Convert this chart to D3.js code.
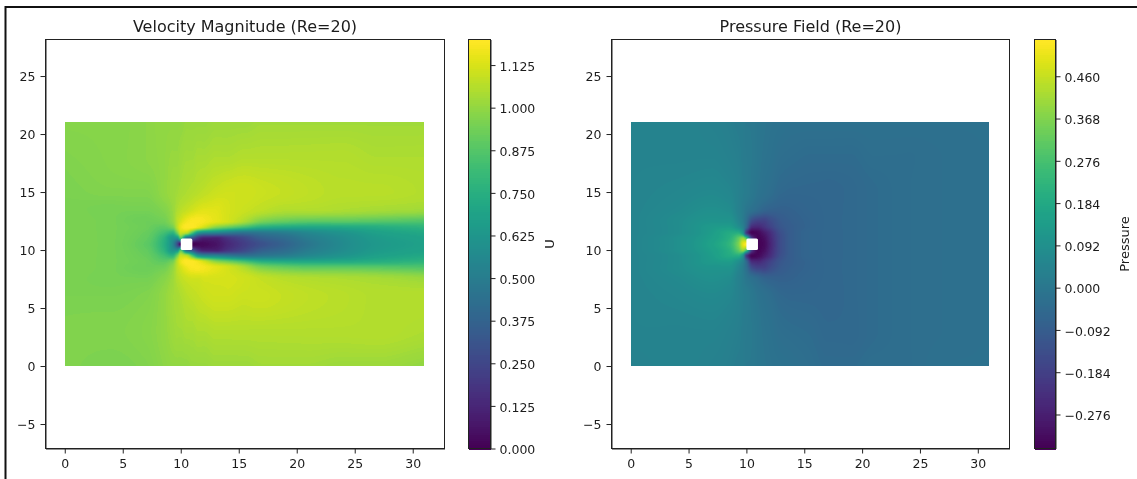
<!DOCTYPE html>
<html>
<head>
<meta charset="utf-8">
<script src="https://cdn.jsdelivr.net/npm/d3@7"></script>
<style>
  html, body { margin: 0; padding: 0; background: white; }
  #chart { position: relative; width: 1137px; height: 479px; overflow: hidden; }
  #chart canvas, #chart svg { position: absolute; left: 0; top: 0; }
  text { font-family: "DejaVu Sans", sans-serif; fill: #1c1c1c; }
</style>
</head>
<body>
<div id="chart"></div>
<script>
// field values, at these mesh positions
var xNodes = [0, 4, 7, 8.5, 9.3, 9.7, 10, 10.5, 11, 11.5, 12, 13, 14, 15.5, 17, 19, 21, 24, 27, 31];
var yNodes = [0, 3, 6, 7.5, 8.5, 9, 9.5, 10, 10.5, 11, 11.5, 12, 12.5, 13.5, 15, 18, 21];

// one row per y node, bottom row first
var uRows = [
  [.97, .96, .97, .99, 1.0, 1.0, 1.0, 1.0, 1.01, 1.01, 1.01, 1.02, 1.02, 1.02, 1.03, 1.03, 1.03, 1.02, 1.02, 1.0],
  [.97, .97, .98, 1.0, 1.02, 1.03, 1.03, 1.04, 1.04, 1.05, 1.05, 1.06, 1.06, 1.06, 1.06, 1.06, 1.06, 1.06, 1.06, 1.05],
  [.96, .96, .97, 1.0, 1.03, 1.04, 1.05, 1.07, 1.08, 1.09, 1.1, 1.11, 1.11, 1.1, 1.1, 1.09, 1.08, 1.07, 1.06, 1.06],
  [.96, .95, .95, .98, 1.02, 1.06, 1.08, 1.1, 1.11, 1.11, 1.12, 1.12, 1.12, 1.11, 1.09, 1.07, 1.06, 1.05, 1.04, 1.02],
  [.96, .95, .93, .94, 1.0, 1.08, 1.12, 1.17, 1.19, 1.19, 1.18, 1.15, 1.12, 1.05, .96, .92, .9, .9, .89, .87],
  [.96, .95, .93, .9, .95, 1.08, 1.16, 1.2, 1.2, 1.17, 1.12, 1.0, .94, .85, .76, .73, .72, .73, .75, .78],
  [.96, .95, .92, .84, .78, .95, 1.1, 1.08, .88, .65, .58, .55, .5, .46, .48, .51, .56, .62, .68, .72],
  [.96, .95, .91, .78, .62, .6, .85, .4, .3, .16, .1, .1, .17, .26, .36, .42, .5, .58, .65, .69],
  [.96, .95, .9, .76, .56, .28, .02, 0, 0, .02, .03, .06, .13, .22, .3, .38, .47, .57, .64, .68],
  [.96, .95, .91, .78, .62, .6, .85, .4, .3, .16, .1, .1, .17, .26, .36, .42, .5, .58, .65, .69],
  [.96, .95, .92, .84, .78, .95, 1.1, 1.08, .88, .65, .58, .55, .5, .46, .48, .51, .56, .62, .68, .72],
  [.96, .95, .93, .9, .95, 1.08, 1.16, 1.2, 1.2, 1.17, 1.12, 1.0, .94, .85, .76, .73, .72, .73, .75, .78],
  [.96, .95, .93, .94, 1.0, 1.08, 1.12, 1.17, 1.19, 1.19, 1.18, 1.15, 1.12, 1.05, .96, .92, .9, .9, .89, .87],
  [.96, .95, .95, .97, 1.01, 1.05, 1.07, 1.09, 1.11, 1.13, 1.14, 1.14, 1.12, 1.1, 1.08, 1.06, 1.06, 1.05, 1.04, 1.03],
  [.96, .97, .97, 1.0, 1.02, 1.03, 1.04, 1.05, 1.06, 1.07, 1.08, 1.1, 1.11, 1.11, 1.1, 1.09, 1.08, 1.07, 1.07, 1.06],
  [.97, .98, .99, 1.0, 1.01, 1.01, 1.02, 1.03, 1.03, 1.04, 1.04, 1.05, 1.05, 1.06, 1.06, 1.06, 1.06, 1.06, 1.05, 1.05],
  [.98, .98, .99, 1.0, 1.0, 1.0, 1.0, 1.01, 1.01, 1.01, 1.01, 1.02, 1.02, 1.02, 1.03, 1.03, 1.03, 1.03, 1.03, 1.03]
];

var pRows = [
  [.04, .05, .04, .03, .02, .02, .01, .01, 0, -.005, -.01, -.015, -.02, -.03, -.04, -.04, -.03, -.03, -.02, -.02],
  [.05, .05, .05, .04, .03, .02, .015, .01, 0, -.01, -.015, -.03, -.035, -.04, -.05, -.05, -.04, -.03, -.025, -.02],
  [.05, .06, .07, .06, .04, .025, .02, .005, -.01, -.02, -.03, -.05, -.055, -.055, -.055, -.05, -.04, -.03, -.025, -.02],
  [.05, .07, .09, .08, .04, .02, 0, -.02, -.04, -.06, -.07, -.075, -.07, -.06, -.055, -.05, -.04, -.03, -.025, -.02],
  [.05, .08, .11, .11, .06, .02, -.03, -.15, -.18, -.18, -.15, -.1, -.08, -.065, -.055, -.05, -.04, -.03, -.025, -.02],
  [.05, .08, .13, .14, .09, .04, -.05, -.24, -.25, -.22, -.18, -.11, -.085, -.065, -.055, -.05, -.04, -.03, -.025, -.02],
  [.05, .08, .14, .19, .2, .1, -.2, -.34, -.33, -.29, -.24, -.13, -.085, -.06, -.055, -.05, -.04, -.03, -.025, -.02],
  [.05, .09, .15, .21, .32, .4, .3, -.2, -.34, -.32, -.26, -.14, -.085, -.06, -.055, -.05, -.04, -.03, -.025, -.02],
  [.05, .09, .16, .23, .36, .5, .54, 0, -.34, -.33, -.27, -.14, -.085, -.06, -.055, -.05, -.04, -.03, -.025, -.02],
  [.05, .09, .15, .21, .32, .4, .3, -.2, -.34, -.32, -.26, -.14, -.085, -.06, -.055, -.05, -.04, -.03, -.025, -.02],
  [.05, .08, .14, .19, .2, .1, -.2, -.34, -.33, -.29, -.24, -.13, -.085, -.06, -.055, -.05, -.04, -.03, -.025, -.02],
  [.05, .08, .13, .14, .09, .04, -.05, -.24, -.25, -.22, -.18, -.11, -.085, -.065, -.055, -.05, -.04, -.03, -.025, -.02],
  [.05, .08, .11, .11, .06, .02, -.03, -.15, -.18, -.18, -.15, -.1, -.08, -.065, -.055, -.05, -.04, -.03, -.025, -.02],
  [.05, .07, .09, .08, .04, .02, 0, -.02, -.04, -.06, -.07, -.075, -.07, -.06, -.055, -.05, -.04, -.03, -.025, -.02],
  [.05, .06, .07, .06, .04, .025, .02, .005, -.01, -.02, -.03, -.05, -.055, -.055, -.055, -.05, -.04, -.03, -.025, -.02],
  [.05, .05, .05, .04, .03, .02, .015, .01, 0, -.01, -.015, -.03, -.035, -.04, -.04, -.04, -.03, -.03, -.025, -.02],
  [.05, .05, .04, .03, .02, .02, .01, .01, 0, -.005, -.01, -.015, -.02, -.02, -.02, -.02, -.02, -.02, -.02, -.02]
];

var xTicks = [0, 5, 10, 15, 20, 25, 30];
var yTicks = [-5, 0, 5, 10, 15, 20, 25];
var xLimits = [-1.66, 32.74];
var yLimits = [-7.11, 28.15];
var obstacle = [10, 11]; // white square, same span in x and y

var uDomain = [0, 1.2];
var uTicks = [0, 0.125, 0.25, 0.375, 0.5, 0.625, 0.75, 0.875, 1, 1.125];
var pDomain = [-0.35, 0.54];
var pTicks = [-0.276, -0.184, -0.092, 0, 0.092, 0.184, 0.276, 0.368, 0.46];
var levelCount = 200;

var width = 1137, height = 479;
var plotTop = 39.5, plotBottom = 448.5;

var chart = d3.select("#chart");
var canvas = chart.append("canvas").attr("width", width).attr("height", height);
var ctx = canvas.node().getContext("2d");
var svg = chart.append("svg").attr("width", width).attr("height", height);

// the frame of the screenshot, top and left only
svg.append("path")
  .attr("d", "M5.5,479V7H1137")
  .attr("fill", "none")
  .attr("stroke", "#111")
  .attr("stroke-width", 2);

// slope at a node, harmonic mean of both sides so shading never overshoots
function nodeSlope(nodes, values, i) {
  if (i == 0) return (values[1] - values[0]) / (nodes[1] - nodes[0]);
  var n = nodes.length - 1;
  if (i == n) return (values[n] - values[n - 1]) / (nodes[n] - nodes[n - 1]);
  var a = (values[i] - values[i - 1]) / (nodes[i] - nodes[i - 1]);
  var b = (values[i + 1] - values[i]) / (nodes[i + 1] - nodes[i]);
  return a * b <= 0 ? 0 : 2 * a * b / (a + b);
}

// smooth shading along one line of mesh nodes
function shade(nodes, values, v) {
  var i = Math.max(1, Math.min(d3.bisectRight(nodes, v), nodes.length - 1));
  var h = nodes[i] - nodes[i - 1];
  var t = (v - nodes[i - 1]) / h;
  var m0 = nodeSlope(nodes, values, i - 1) * h;
  var m1 = nodeSlope(nodes, values, i) * h;
  return (2 * t * t * t - 3 * t * t + 1) * values[i - 1] + (t * t * t - 2 * t * t + t) * m0 +
    (3 * t * t - 2 * t * t * t) * values[i] + (t * t * t - t * t) * m1;
}

function drawPanel(options) {
  var x = d3.scaleLinear().domain(xLimits).range([options.left, options.right]);
  var y = d3.scaleLinear().domain(yLimits).range([plotBottom, plotTop]);

  // filled contour levels, as in the colorbar
  var levels = d3.range(levelCount).map(function (i) { return d3.interpolateViridis(i / (levelCount - 1)); });
  var color = d3.scaleQuantize().domain(options.domain).range(levels);

  // paint the field pixel by pixel
  var px0 = Math.round(x(xNodes[0])), px1 = Math.round(x(xNodes[xNodes.length - 1]));
  var py0 = Math.floor(y(yNodes[yNodes.length - 1])), py1 = Math.round(y(yNodes[0]));
  for (var px = px0; px < px1; px++) {
    var dataX = x.invert(px + 0.5);
    var column = options.rows.map(function (row) { return shade(xNodes, row, dataX); });
    for (var py = py0; py < py1; py++) {
      ctx.fillStyle = color(shade(yNodes, column, y.invert(py + 0.5)));
      ctx.fillRect(px, py, 1, 1);
    }
  }

  var g = svg.append("g");

  // hole around the obstacle
  g.append("rect")
    .attr("x", x(obstacle[0]))
    .attr("y", y(obstacle[1]))
    .attr("width", x(obstacle[1]) - x(obstacle[0]))
    .attr("height", y(obstacle[0]) - y(obstacle[1]))
    .attr("rx", 1.5)
    .attr("fill", "white");

  // axes
  var xAxis = d3.axisBottom(x).tickValues(xTicks).tickSize(5).tickSizeOuter(0).tickPadding(6);
  var yAxis = d3.axisLeft(y).tickValues(yTicks).tickSize(5).tickSizeOuter(0).tickPadding(5);
  g.append("g").attr("transform", "translate(0," + plotBottom + ")").call(xAxis);
  g.append("g").attr("transform", "translate(" + options.left + ",0)").call(yAxis);
  g.append("rect")
    .attr("x", options.left).attr("y", plotTop)
    .attr("width", options.right - options.left).attr("height", plotBottom - plotTop)
    .attr("fill", "none").attr("stroke", "#222");

  g.append("text")
    .attr("x", (options.left + options.right) / 2)
    .attr("y", 31.5)
    .attr("text-anchor", "middle")
    .attr("font-size", 16)
    .text(options.title);

  // colorbar
  var bar = d3.scaleLinear().domain(options.domain).range([plotBottom, plotTop]);
  var step = (options.domain[1] - options.domain[0]) / levelCount;
  g.append("g").attr("shape-rendering", "crispEdges").selectAll("rect")
    .data(levels)
    .enter()
    .append("rect")
    .attr("x", options.barLeft)
    .attr("width", options.barRight - options.barLeft)
    .attr("y", function (d, i) { return bar(options.domain[0] + (i + 1) * step); })
    .attr("height", Math.abs(bar(step) - bar(0)) + 1)
    .attr("fill", function (d) { return d; });
  var barAxis = d3.axisRight(bar).tickValues(options.ticks).tickFormat(d3.format(".3f")).tickSize(5).tickSizeOuter(0).tickPadding(4);
  var barGroup = g.append("g").attr("transform", "translate(" + options.barRight + ",0)").call(barAxis);
  g.append("rect")
    .attr("x", options.barLeft).attr("y", plotTop)
    .attr("width", options.barRight - options.barLeft).attr("height", plotBottom - plotTop)
    .attr("fill", "none").attr("stroke", "#222");

  g.append("text")
    .attr("transform", "translate(" + options.labelX + "," + (plotTop + plotBottom) / 2 + ") rotate(-90)")
    .attr("text-anchor", "middle")
    .attr("font-size", 13)
    .text(options.label);

  g.selectAll(".tick text").attr("font-size", 12.5).attr("font-family", null);
  barGroup.selectAll(".tick text").attr("dy", "0.42em");
  g.selectAll(".tick line").attr("stroke", "#222");
  g.selectAll(".domain").attr("stroke", "#222");
}

drawPanel({
  rows: uRows, domain: uDomain, ticks: uTicks,
  title: "Velocity Magnitude (Re=20)", label: "U",
  left: 45.5, right: 444.5, barLeft: 468.5, barRight: 490.5, labelX: 554
});

drawPanel({
  rows: pRows, domain: pDomain, ticks: pTicks,
  title: "Pressure Field (Re=20)", label: "Pressure",
  left: 611.5, right: 1009.5, barLeft: 1034.5, barRight: 1055.5, labelX: 1129
});
</script>
</body>
</html>
